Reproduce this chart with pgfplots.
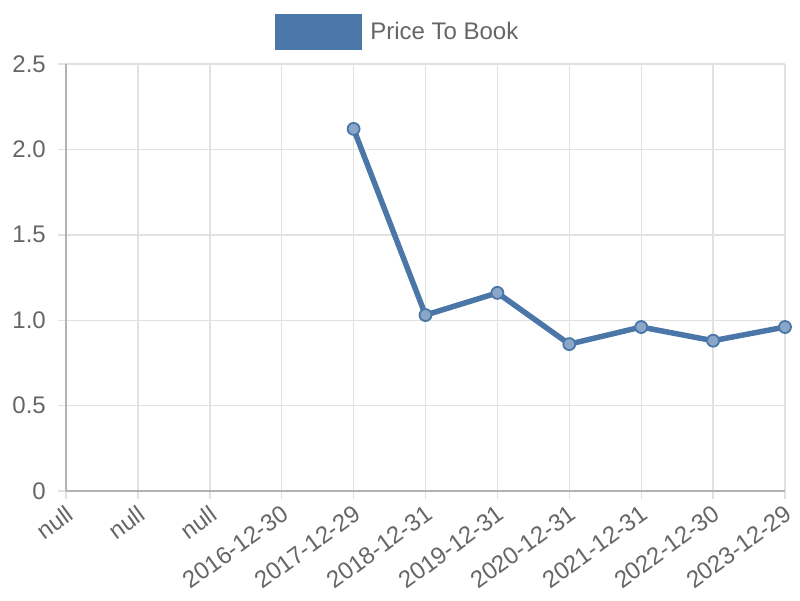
\documentclass[border=0pt]{standalone}
\usepackage{pgfplots}
\pgfplotsset{compat=1.18}
\usepackage{fontspec}
\setmainfont{Liberation Sans}
\definecolor{linec}{HTML}{4A77A8}
\definecolor{markc}{HTML}{8AA7CA}
\definecolor{txt}{HTML}{666666}
\definecolor{gridc}{HTML}{E1E1E1}
\definecolor{axc}{HTML}{B3B3B3}
\begin{document}
\begin{tikzpicture}
\path (0pt,0pt) rectangle (800pt,600pt);
\begin{axis}[
  at={(66pt,109pt)}, anchor=south west,
  scale only axis, width=719pt, height=427pt,
  xmin=0, xmax=10, ymin=0, ymax=2.5,
  axis x line=bottom, axis y line=left,
  axis line style={axc, line width=1.6pt, -},
  xtick={0,...,10},
  xticklabels={null,null,null,2016-12-30,2017-12-29,2018-12-31,2019-12-31,2020-12-31,2021-12-31,2022-12-30,2023-12-29},
  ytick={0,0.5,1,1.5,2,2.5},
  yticklabels={0,0.5,1.0,1.5,2.0,2.5},
  grid=major,
  major grid style={gridc, line width=1.4pt},
  tick align=outside,
  major tick length=8pt,
  tick style={gridc, line width=1.4pt},
  ticklabel style={font=\fontsize{24}{28}\selectfont, text=txt},
  xticklabel style={rotate=36, anchor=north east, inner sep=2pt, xshift=-2pt, yshift=-1pt},
  yticklabel style={inner sep=4pt, xshift=-8pt},
  legend style={at={(0.4611,1.075)}, anchor=center, draw=none, fill=none,
    font=\fontsize{24}{28}\selectfont, text=txt, legend cell align=left},
  legend image code/.code={\fill[linec] (0pt,-15pt) rectangle (82pt,15pt);},
  clip=false,
]
\addplot[linec, line width=5.5pt, mark=*, mark size=6pt,
  mark options={fill=markc, draw=linec, line width=1.8pt}]
  coordinates {(4,2.12) (5,1.03) (6,1.16) (7,0.86) (8,0.96) (9,0.88) (10,0.96)};
\addlegendentry{\hspace{6pt}Price To Book}
\end{axis}
\end{tikzpicture}
\end{document}
